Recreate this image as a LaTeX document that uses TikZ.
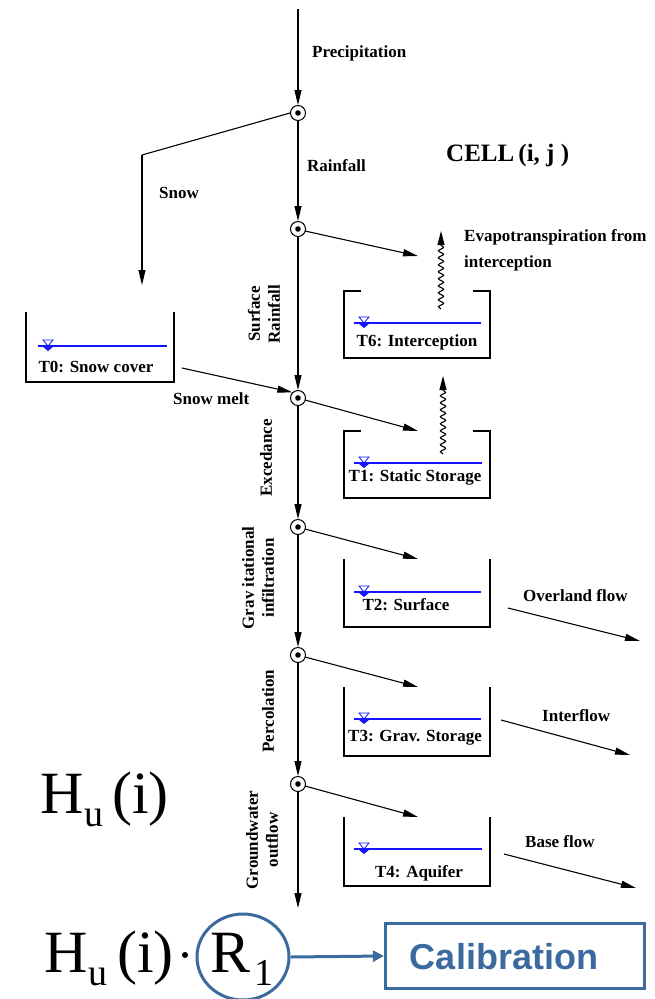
\documentclass[tikz,border=0pt]{standalone}
\usepackage{fontspec}
\setmainfont{Liberation Serif}
\newfontfamily\calsans{Liberation Sans}
\usetikzlibrary{arrows.meta,decorations.pathmorphing,shapes.geometric}
\definecolor{calblue}{RGB}{58,106,158}
\definecolor{waterblue}{RGB}{20,20,255}
\begin{document}
\begin{tikzpicture}[x=1pt,y=-1pt,
  lbl/.style={font=\bfseries\fontsize{17}{20}\selectfont, inner sep=0pt},
  rlbl/.style={font=\bfseries\fontsize{17}{20}\selectfont, inner sep=0pt, rotate=90, align=center},
  junction/.style={circle, draw, line width=1pt, minimum size=15pt, inner sep=0pt},
  flow/.style={line width=1.1pt, -{Triangle[length=15pt,width=7pt]}},
  plainline/.style={line width=1.1pt},
  tank/.style={line width=1.8pt},
  water/.style={draw=waterblue, line width=1.3pt},
  wavy/.style={line width=1.1pt, decorate, decoration={snake, amplitude=2.6pt, segment length=7pt, post length=14pt}, -{Triangle[length=14pt,width=7pt]}},
  big/.style={font=\fontsize{60}{60}\selectfont, inner sep=0pt},
  bigsub/.style={font=\fontsize{38}{38}\selectfont, inner sep=0pt}
]
\useasboundingbox (0,0) rectangle (655,999);

% junctions
\foreach \n/\y in {j1/113, j2/229, j3/398, j4/527, j5/655, j6/784} {
  \node[junction] (\n) at (298,\y) {};
  \fill (298,\y) circle (2.8pt);
}

% main flow
\coordinate (top) at (298,9);
\coordinate (bottomend) at (298,908);
\draw[flow] (top) -- (j1.north);
\draw[flow] (j1.south) -- (j2.north);
\draw[flow] (j2.south) -- (j3.north);
\draw[flow] (j3.south) -- (j4.north);
\draw[flow] (j4.south) -- (j5.north);
\draw[flow] (j5.south) -- (j6.north);
\draw[flow] (j6.south) -- (bottomend);

% snow branch
\coordinate (snowcorner) at (142,155);
\coordinate (snowend) at (142,285);
\draw[plainline] (j1.west) -- (snowcorner);
\draw[flow] (snowcorner) -- (snowend);

% side arrows to tanks
\coordinate (a2) at (418,256);
\coordinate (a3) at (418,431);
\coordinate (a4) at (418,559);
\coordinate (a5) at (418,687);
\coordinate (a6) at (418,817);
\draw[flow] (j2) ++(7,2) -- (a2);
\draw[flow] (j3) ++(7,2) -- (a3);
\draw[flow] (j4) ++(7,2) -- (a4);
\draw[flow] (j5) ++(7,2) -- (a5);
\draw[flow] (j6) ++(7,2) -- (a6);

% snow melt
\coordinate (smstart) at (182,368);
\draw[flow] (smstart) -- (j3.north west);

% evapotranspiration wavy arrows
\coordinate (w1a) at (441,309);
\coordinate (w1b) at (441,231);
\coordinate (w2a) at (443,454);
\coordinate (w2b) at (443,376);
\draw[wavy] (w1a) -- (w1b);
\draw[wavy] (w2a) -- (w2b);

% tanks
\draw[tank] (26,312) -- (26,382) -- (174,382) -- (174,312);
\draw[tank] (361,291) -- (344,291) -- (344,358) -- (490,358) -- (490,291) -- (473,291);
\draw[tank] (361,431) -- (344,431) -- (344,498) -- (490,498) -- (490,431) -- (473,431);
\draw[tank] (344,559) -- (344,627) -- (490,627) -- (490,559);
\draw[tank] (344,687) -- (344,756) -- (490,756) -- (490,687);
\draw[tank] (344,817) -- (344,886) -- (490,886) -- (490,817);

% water levels
\foreach \xa/\xb/\xt/\y in {38/167/48/346, 354/481/364/323, 354/482/364/463, 354/481/364/592, 354/481/364/719, 354/482/364/849} {
  \draw[water] (\xa,\y) -- (\xb,\y);
  \draw[draw=waterblue, line width=0.8pt] (\xt-5,\y-6) -- (\xt+5,\y-6) -- (\xt,\y) -- cycle;
  \fill[waterblue] (\xt-6,\y) -- (\xt+6,\y) -- (\xt,\y+5) -- cycle;
}

% tank labels
\node[lbl] (t0) at (96,367) {T0: Snow cover};
\node[lbl] (t6) at (417,342) {T6: Interception};
\node[lbl] (t1) at (415,477) {T1: Static Storage};
\node[lbl] (t2) at (406,605) {T2: Surface};
\node[lbl] (t3) at (415,738) {T3: Grav. Storage};
\node[lbl] (t4) at (419,873) {T4: Aquifer};

% outflows
\coordinate (o1a) at (508,608);
\coordinate (o1b) at (640,641);
\coordinate (o2a) at (501,720);
\coordinate (o2b) at (630,755);
\coordinate (o3a) at (504,854);
\coordinate (o3b) at (636,888);
\draw[flow] (o1a) -- (o1b);
\draw[flow] (o2a) -- (o2b);
\draw[flow] (o3a) -- (o3b);

% flow labels
\node[lbl, anchor=west] (lprec) at (312,53) {Precipitation};
\node[lbl, anchor=west] (lrain) at (307,166) {Rainfall};
\node[lbl, anchor=west] (lsnow) at (159,193) {Snow};
\node[lbl, anchor=west] (lmelt) at (173,399) {Snow melt};
\node[lbl, anchor=west, align=left, font=\bfseries\fontsize{17}{26}\selectfont] (levap) at (464,250) {Evapotranspiration from\\interception};
\node[lbl, anchor=west] (lover) at (523,596) {Overland flow};
\node[lbl, anchor=west] (linter) at (542,716) {Interflow};
\node[lbl, anchor=west] (lbase) at (525,842) {Base flow};
\node[inner sep=0pt, anchor=west, font=\bfseries\fontsize{25}{28}\selectfont] (cell) at (446,155) {CELL\,(i, j )};

\node[rlbl] (lsurf) at (264,314) {Surface\\Rainfall};
\node[rlbl] (lexc) at (266,458) {Excedance};
\node[rlbl] (lgrav) at (258,578) {Grav itational\\infiltration};
\node[rlbl] (lperc) at (268,711) {Percolation};
\node[rlbl] (lgw) at (262,840) {Groundwater\\outflow};

% H_u(i)
\node[big, anchor=base west] (h1) at (40,813) {H};
\node[bigsub, anchor=base west] (u1) at (84,826) {u};
\node[big, anchor=base west] (p1) at (112,813) {(i)};

% H_u(i) . R_1
\node[big, anchor=base west] (h2) at (44,972) {H};
\node[bigsub, anchor=base west] (u2) at (88,985) {u};
\node[big, anchor=base west] (p2) at (117,972) {(i)};
\coordinate (dotc) at (185,955);
\fill (dotc) circle (3pt);
\node[big, anchor=base west] (r2) at (210,972) {R};
\node[bigsub, anchor=base west] (one) at (254,985) {1};

\node[ellipse, draw=calblue, line width=3pt, minimum width=92pt, minimum height=86pt, inner sep=0pt] (ring) at (243,957) {};
\node[draw=calblue, line width=3.2pt, minimum width=259pt, minimum height=65pt, inner sep=0pt] (cal) at (515,956) {};
\node[inner sep=0pt, text=calblue, font=\calsans\bfseries\fontsize{36}{36}\selectfont] (caltext) at (504,957) {Calibration};
\draw[draw=calblue, line width=3pt, -{Triangle[length=11pt,width=11pt]}] (ring.east) -- (cal.west);
\end{tikzpicture}
\end{document}
